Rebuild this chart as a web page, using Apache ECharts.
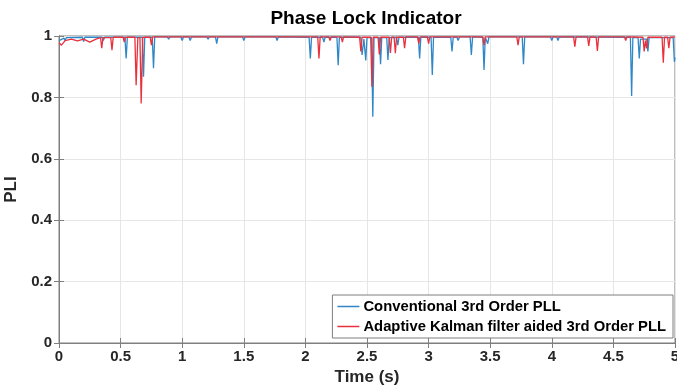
<!DOCTYPE html>
<html>
<head>
<meta charset="utf-8">
<script src="https://cdn.jsdelivr.net/npm/echarts@6/dist/echarts.min.js"></script>
<style>html,body{margin:0;padding:0;background:#fff}#c{width:677px;height:387px}</style>
</head>
<body>
<div id="c"></div>
<script>
const chartTitle = 'Phase Lock Indicator';
const seriesNames = ['Conventional 3rd Order PLL', 'Adaptive Kalman filter aided 3rd Order PLL'];
const xTicks = [0, 0.5, 1, 1.5, 2, 2.5, 3, 3.5, 4, 4.5, 5];
const yTicks = [0, 0.2, 0.4, 0.6, 0.8, 1];

// [time (s), PLI]
const conventionalPLI = [
  [0,0.985],[0.04,0.993],[0.05,0.985],[0.06,0.995],[0.19,0.996],[0.2,0.982],[0.21,0.996],
  [0.35,0.996],[0.36,0.985],[0.37,0.996],[0.535,0.996],[0.545,0.927],[0.555,0.996],
  [0.676,0.996],[0.686,0.867],[0.696,0.996],[0.757,0.996],[0.767,0.895],[0.777,0.997],
  [0.88,0.997],[0.89,0.99],[0.9,0.997],[0.99,0.997],[1.0,0.985],[1.01,0.997],
  [1.055,0.997],[1.065,0.985],[1.075,0.997],[1.2,0.997],[1.21,0.99],[1.22,0.997],
  [1.27,0.997],[1.28,0.975],[1.29,0.997],[1.49,0.997],[1.5,0.985],[1.51,0.997],
  [1.76,0.997],[1.77,0.985],[1.78,0.997],[2.03,0.996],[2.04,0.927],[2.05,0.996],
  [2.14,0.996],[2.15,0.98],[2.16,0.996],[2.256,0.996],[2.266,0.905],[2.276,0.996],
  [2.45,0.996],[2.46,0.938],[2.475,0.99],[2.49,0.92],[2.5,0.995],[2.537,0.995],
  [2.547,0.737],[2.557,0.995],[2.6,0.995],[2.61,0.908],[2.62,0.995],[2.66,0.995],
  [2.67,0.922],[2.68,0.995],[2.74,0.996],[2.75,0.97],[2.76,0.996],[2.917,0.996],
  [2.927,0.927],[2.937,0.996],[3.02,0.996],[3.03,0.873],[3.04,0.996],[3.18,0.996],
  [3.19,0.95],[3.2,0.996],[3.23,0.997],[3.24,0.985],[3.25,0.997],[3.337,0.997],
  [3.347,0.938],[3.357,0.997],[3.44,0.996],[3.45,0.889],[3.46,0.996],[3.47,0.996],
  [3.48,0.975],[3.49,0.997],[3.76,0.997],[3.77,0.908],[3.78,0.997],[3.99,0.997],
  [4.0,0.985],[4.01,0.997],[4.04,0.997],[4.05,0.985],[4.06,0.997],[4.638,0.996],
  [4.648,0.805],[4.658,0.996],[4.7,0.995],[4.71,0.927],[4.72,0.99],[4.77,0.99],
  [4.78,0.95],[4.79,0.995],[4.985,0.995],[4.995,0.916],[5.0,0.93]
];

const adaptiveKalmanPLI = [
  [0,0.978],[0.02,0.97],[0.05,0.985],[0.1,0.99],[0.15,0.984],[0.2,0.99],[0.25,0.98],
  [0.3,0.99],[0.337,0.995],[0.347,0.96],[0.357,0.995],[0.42,0.995],[0.43,0.954],
  [0.44,0.996],[0.52,0.996],[0.53,0.98],[0.54,0.996],[0.616,0.996],[0.626,0.84],
  [0.64,0.995],[0.657,0.995],[0.667,0.78],[0.68,0.996],[0.74,0.996],[0.75,0.97],
  [0.76,0.997],[2.1,0.997],[2.11,0.927],[2.12,0.997],[2.19,0.997],[2.2,0.985],
  [2.21,0.997],[2.29,0.997],[2.3,0.98],[2.31,0.997],[2.44,0.996],[2.45,0.95],
  [2.46,0.996],[2.53,0.996],[2.54,0.835],[2.55,0.996],[2.59,0.996],[2.6,0.94],
  [2.61,0.996],[2.68,0.996],[2.69,0.945],[2.7,0.996],[2.72,0.996],[2.73,0.944],
  [2.74,0.996],[2.795,0.996],[2.805,0.96],[2.815,0.997],[2.91,0.997],[2.92,0.975],
  [2.93,0.997],[2.99,0.997],[3.0,0.975],[3.01,0.997],[3.44,0.997],[3.45,0.97],
  [3.46,0.997],[3.716,0.997],[3.726,0.97],[3.736,0.997],[4.177,0.997],[4.187,0.965],
  [4.197,0.997],[4.29,0.997],[4.3,0.968],[4.31,0.997],[4.36,0.996],[4.37,0.951],
  [4.38,0.997],[4.59,0.997],[4.6,0.985],[4.61,0.997],[4.74,0.996],[4.75,0.95],
  [4.76,0.985],[4.77,0.96],[4.78,0.996],[4.895,0.996],[4.905,0.913],[4.915,0.996],
  [4.94,0.996],[4.95,0.96],[4.96,0.996],[5.0,0.997]
];

const colors = ['#2f87c8', '#e8313c'];
const txt = '#262626';
const font = 'Liberation Sans';

const chart = echarts.init(document.getElementById('c'));
const axisCommonX = {
  type: 'value', min: xTicks[0], max: xTicks[xTicks.length-1], interval: 0.5
};
const axisCommonY = {
  type: 'value', min: yTicks[0], max: yTicks[yTicks.length-1], interval: 0.2
};
chart.setOption({
  animation: false,
  backgroundColor: '#fff',
  title: {
    text: chartTitle, left: 361, top: 4, textAlign: 'center',
    textStyle: { fontFamily: font, fontWeight: 'bold', fontSize: 19, color: '#000' }
  },
  grid: { left: 59, right: 2, top: 36, bottom: 44, show: true, borderColor: '#7f7f7f', borderWidth: 1,
          backgroundColor: '#fff', containLabel: false, outerBoundsMode: 'none' },
  legend: {
    data: seriesNames, orient: 'vertical', right: 4, bottom: 49,
    backgroundColor: '#fff', borderColor: '#7f7f7f', borderWidth: 1,
    icon: 'rect', itemWidth: 22, itemHeight: 1.5, itemGap: 5,
    padding: [4, 7, 4, 5],
    textStyle: { fontFamily: font, fontWeight: 'bold', fontSize: 14.8, color: '#000', padding: [0, 0, 0, -1] }
  },
  xAxis: [
    Object.assign({}, axisCommonX, {
      position: 'bottom',
      name: 'Time (s)', nameLocation: 'middle', nameGap: 25,
      nameTextStyle: { fontFamily: font, fontWeight: 'bold', fontSize: 17, color: txt },
      axisLine: { show: true, lineStyle: { color: '#7f7f7f' } },
      axisTick: { show: true, inside: true, length: 5, lineStyle: { color: '#7f7f7f' } },
      axisLabel: { fontFamily: font, fontWeight: 'bold', fontSize: 15, color: txt, margin: 6 },
      splitLine: { show: true, lineStyle: { color: '#e6e6e6', width: 1 } }
    }),
    Object.assign({}, axisCommonX, {
      position: 'top',
      axisLine: { show: true, lineStyle: { color: '#7f7f7f' } },
      axisTick: { show: true, inside: true, length: 5, lineStyle: { color: '#7f7f7f' } },
      axisLabel: { show: false }, splitLine: { show: false }
    })
  ],
  yAxis: [
    Object.assign({}, axisCommonY, {
      position: 'left',
      name: 'PLI', nameLocation: 'middle', nameGap: 31,
      nameTextStyle: { fontFamily: font, fontWeight: 'bold', fontSize: 17, color: txt },
      axisLine: { show: true, lineStyle: { color: '#7f7f7f' } },
      axisTick: { show: true, inside: true, length: 5, lineStyle: { color: '#7f7f7f' } },
      axisLabel: { fontFamily: font, fontWeight: 'bold', fontSize: 15, color: txt, margin: 7 },
      splitLine: { show: true, lineStyle: { color: '#e6e6e6', width: 1 } }
    }),
    Object.assign({}, axisCommonY, {
      position: 'right',
      axisLine: { show: true, lineStyle: { color: '#7f7f7f' } },
      axisTick: { show: true, inside: true, length: 5, lineStyle: { color: '#7f7f7f' } },
      axisLabel: { show: false }, splitLine: { show: false }
    })
  ],
  series: [
    { name: seriesNames[0], type: 'line', data: conventionalPLI, showSymbol: false, symbol: 'none',
      lineStyle: { color: colors[0], width: 1.3 }, itemStyle: { color: colors[0] } },
    { name: seriesNames[1], type: 'line', data: adaptiveKalmanPLI, showSymbol: false, symbol: 'none',
      lineStyle: { color: colors[1], width: 1.3 }, itemStyle: { color: colors[1] } }
  ]
});
</script>
</body>
</html>
